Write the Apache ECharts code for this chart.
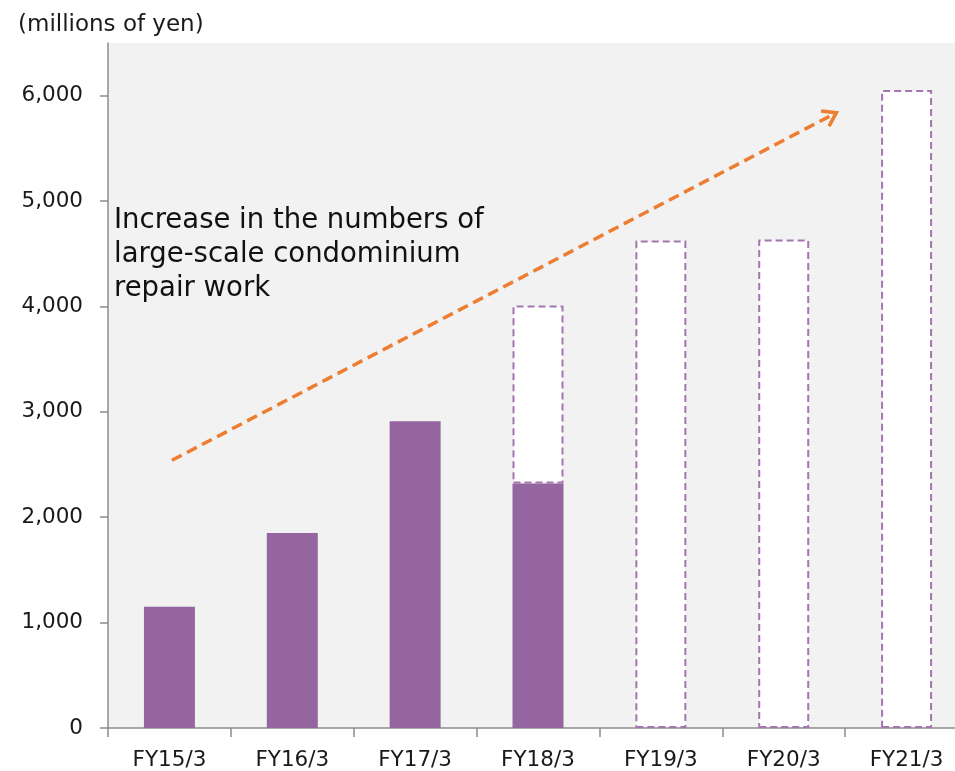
<!DOCTYPE html>
<html>
<head>
<meta charset="utf-8">
<script src="https://cdn.jsdelivr.net/npm/echarts@6/dist/echarts.min.js"></script>
<style>html,body{margin:0;padding:0;background:#fff;overflow:hidden}#c{width:968px;height:771px}</style>
</head>
<body>
<div id="c"></div>
<script>
var categories = ['FY15/3','FY16/3','FY17/3','FY18/3','FY19/3','FY20/3','FY21/3'];
var actualValues = [1150, 1850, 2910, 2320, null, null, null];
var forecastTotals = [null, null, null, 4010, 4625, 4635, 6055];
var yTickValues = [0, 1000, 2000, 3000, 4000, 5000, 6000];
var arrowStart = [0.02, 2540];
var arrowEnd = [5.39, 5815];
var unitLabel = '(millions of yen)';
var noteText = 'Increase in the numbers of\nlarge-scale condominium\nrepair work';

var forecastPart = forecastTotals.map(function (v, i) {
  if (v == null) return null;
  return v - (actualValues[i] || 0);
});

var FONT = 'DejaVu Sans';
var chart = echarts.init(document.getElementById('c'));
chart.setOption({
  animation: false,
  backgroundColor: '#ffffff',
  textStyle: { fontFamily: FONT },
  title: {
    text: unitLabel, left: 13, top: 9,
    textStyle: { fontFamily: FONT, fontSize: 23, fontWeight: 'normal', color: '#1a1a1a' }
  },
  grid: {
    left: 108, top: 43, right: 0, bottom: 43,
    show: true, backgroundColor: '#f2f2f2', borderWidth: 0
  },
  xAxis: [{
    type: 'category', data: categories,
    axisLine: { lineStyle: { color: '#8c8c8c', width: 1.5 } },
    axisTick: { show: true, length: 9, lineStyle: { color: '#8c8c8c', width: 1.5 } },
    axisLabel: { fontSize: 21.5, color: '#1a1a1a', margin: 21, fontFamily: FONT }
  }, {
    type: 'value', min: -0.5, max: 6.5, show: false
  }],
  yAxis: {
    type: 'value', min: 0, max: 6500, interval: 1000,
    splitLine: { show: false },
    axisLine: { show: true, onZero: false, lineStyle: { color: '#8c8c8c', width: 1.5 } },
    axisTick: { show: true, length: 8, customValues: yTickValues, lineStyle: { color: '#8c8c8c', width: 1.5 } },
    axisLabel: {
      fontSize: 21.5, color: '#1a1a1a', margin: 25, fontFamily: FONT,
      customValues: yTickValues,
      formatter: function (v) { return v.toLocaleString('en-US'); }
    }
  },
  graphic: [{
    type: 'text', left: 114, top: 204,
    style: { text: noteText, fontSize: 27.5, lineHeight: 34, fill: '#111111', fontFamily: FONT }
  }],
  series: [{
    type: 'bar', name: 'actual', stack: 'total', data: actualValues,
    barWidth: '41.5%',
    itemStyle: { color: '#9565a0' }
  }, {
    type: 'bar', name: 'forecast', stack: 'total', data: forecastPart,
    barWidth: '41.5%',
    itemStyle: { color: '#ffffff', borderColor: '#a476b0', borderWidth: 2, borderType: [7, 4] }
  }, {
    type: 'line', xAxisIndex: 1, yAxisIndex: 0, data: [],
    silent: true,
    markLine: {
      silent: true, animation: false,
      symbol: ['none', 'path://M5,0 L10,8.2 L8.6,9.4 L5,3.6 L1.4,9.4 L0,8.2 Z'],
      symbolSize: [20, 17],
      label: { show: false },
      lineStyle: { color: '#ed7d31', width: 3.5, type: [11, 6] },
      data: [[{ coord: arrowStart }, { coord: arrowEnd }]]
    }
  }]
});
</script>
</body>
</html>
